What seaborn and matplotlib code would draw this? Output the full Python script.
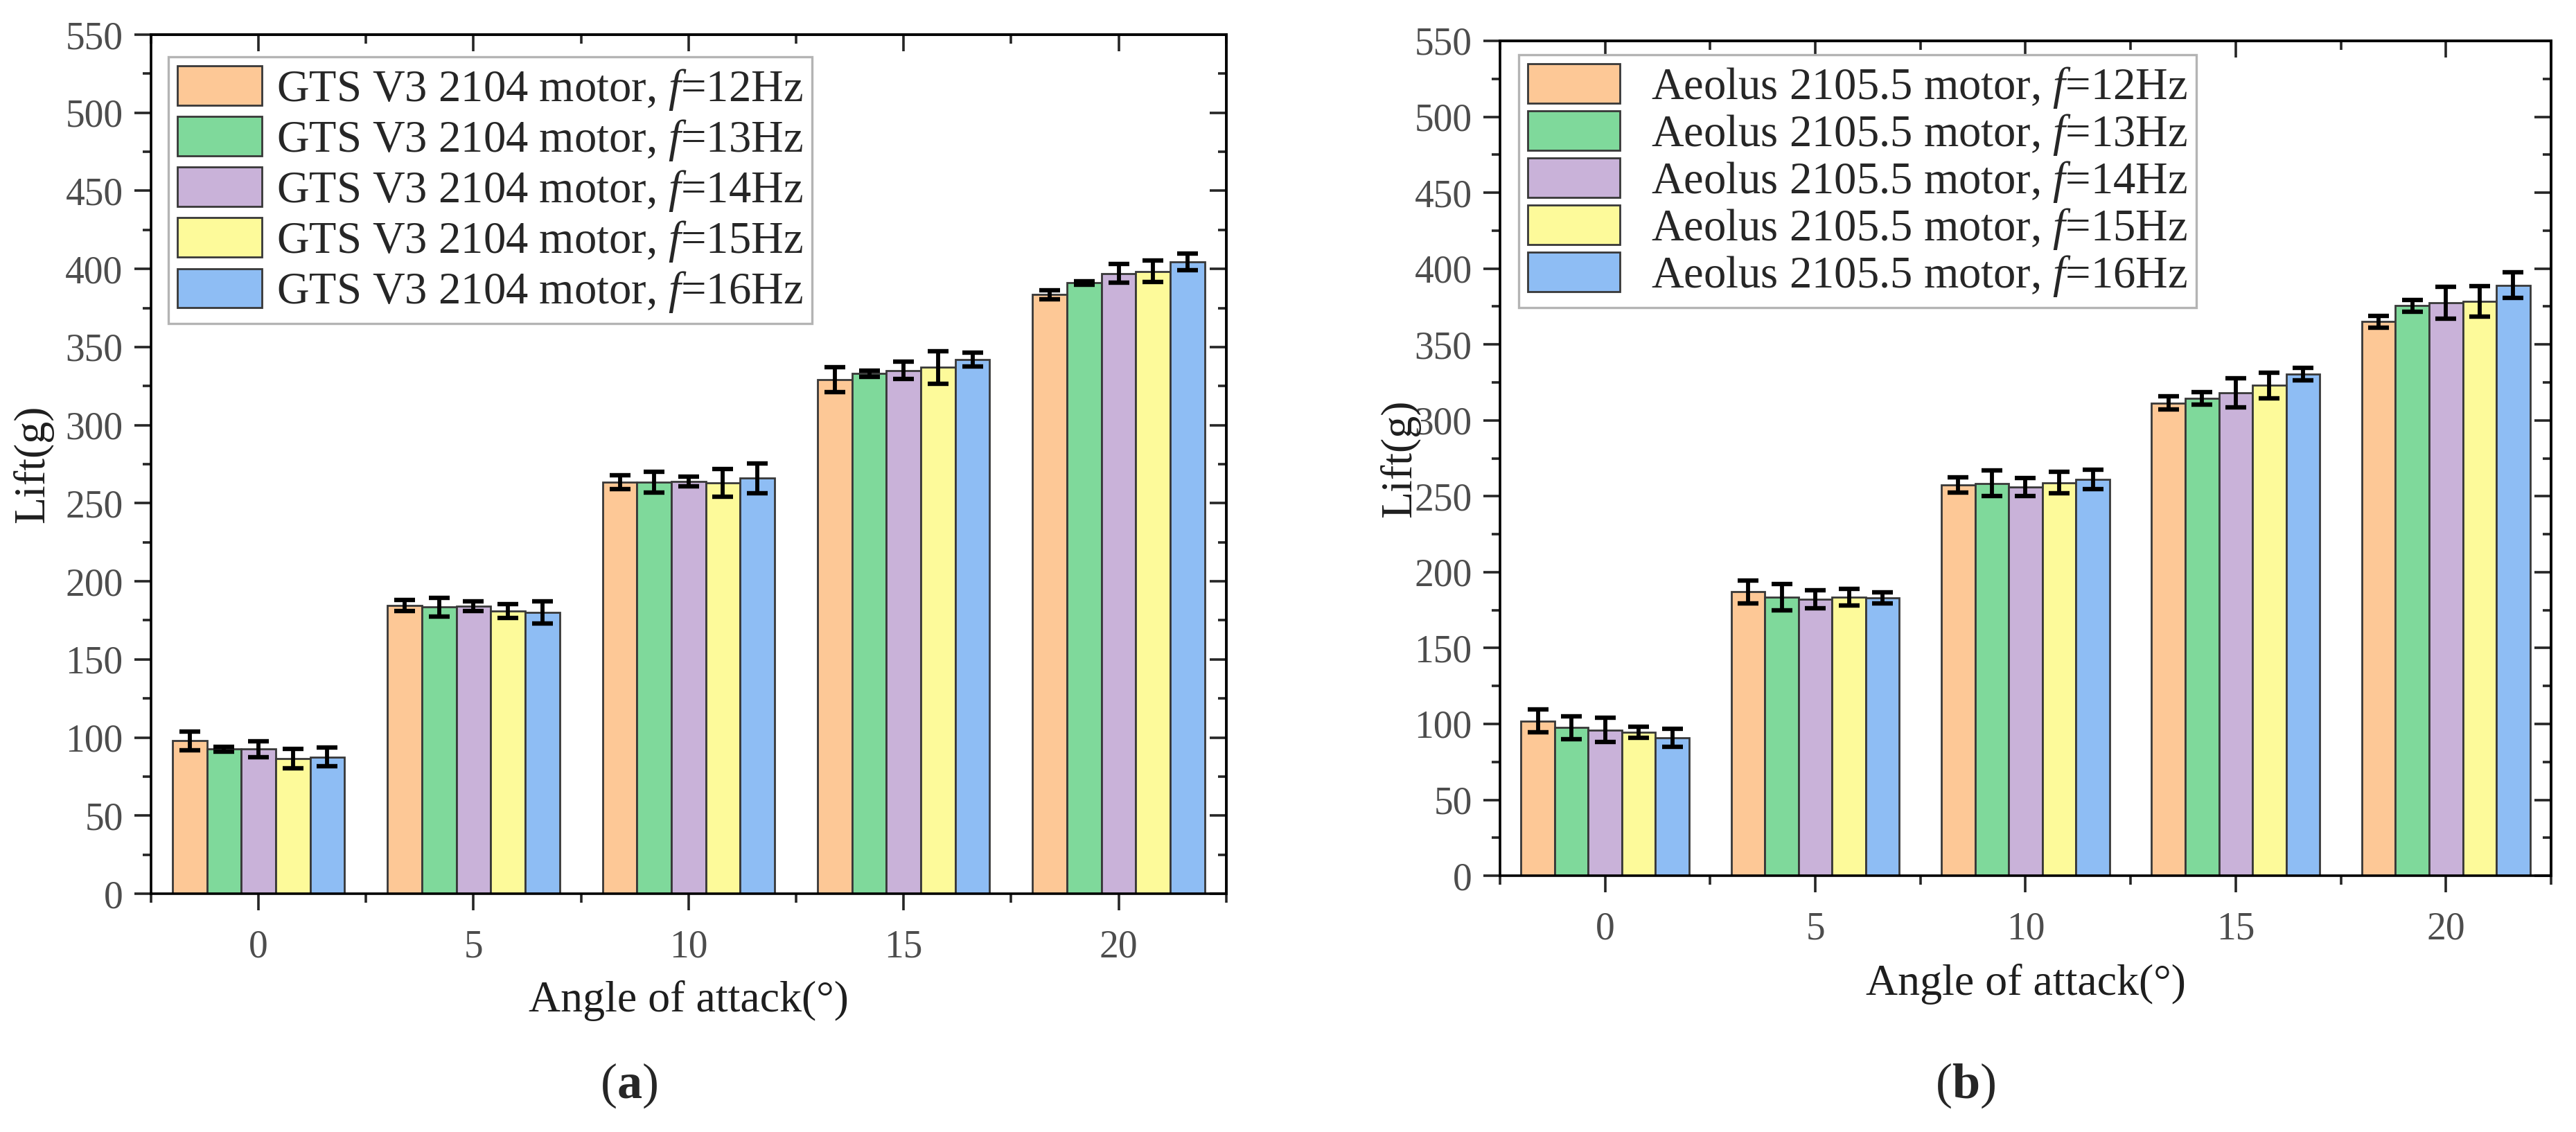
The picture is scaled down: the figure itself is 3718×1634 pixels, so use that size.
import numpy as np
import pandas as pd
import matplotlib
matplotlib.use("Agg")
import matplotlib.pyplot as plt
import matplotlib.ticker as mtick
import matplotlib.patches as mpatches
import seaborn as sns

# ── Data ────────────────────────────────────────────────────────────────────
angles = [0, 5, 10, 15, 20]
freqs = [12, 13, 14, 15, 16]

# (a) GTS V3 2104 motor
gts_12 = [98.0, 184.5, 263.5, 329.0, 383.5]
gts_13 = [92.5, 183.5, 263.5, 333.0, 391.0]
gts_14 = [92.5, 184.0, 264.0, 335.0, 397.0]
gts_15 = [86.5, 181.0, 263.0, 337.0, 398.5]
gts_16 = [87.5, 180.0, 266.0, 342.0, 404.5]
gts_12_err = [6.0, 3.5, 4.5, 8.0, 3.0]
gts_13_err = [1.5, 6.0, 6.5, 2.0, 1.0]
gts_14_err = [5.0, 3.0, 3.0, 5.5, 6.0]
gts_15_err = [6.0, 4.5, 9.0, 10.5, 7.0]
gts_16_err = [6.0, 7.0, 9.5, 4.5, 5.5]

# (b) Aeolus 2105.5 motor
aeolus_12 = [102.0, 187.0, 257.5, 311.5, 365.0]
aeolus_13 = [97.5, 183.5, 258.5, 314.5, 375.5]
aeolus_14 = [96.0, 182.0, 256.0, 318.0, 377.5]
aeolus_15 = [94.5, 183.5, 259.0, 323.0, 378.5]
aeolus_16 = [91.0, 183.0, 261.0, 330.5, 389.0]
aeolus_12_err = [7.5, 7.5, 5.0, 4.5, 4.0]
aeolus_13_err = [7.5, 8.5, 8.5, 4.0, 4.0]
aeolus_14_err = [8.0, 6.0, 6.0, 9.5, 10.5]
aeolus_15_err = [3.5, 5.5, 7.0, 8.5, 10.0]
aeolus_16_err = [6.0, 3.5, 6.5, 4.0, 8.5]

COLORS = ["#FDC896", "#7FD99B", "#C9B2D9", "#FDFA9A", "#8EBDF4"]
EDGE = "#383838"
TICK_COLOR = "#4d4d4d"

sns.set_theme(style="ticks")
plt.rcParams.update({
    "font.family": ["Liberation Serif", "DejaVu Serif"],
    "mathtext.fontset": "custom",
    "mathtext.rm": "Liberation Serif",
    "mathtext.it": "Liberation Serif:italic",
    "mathtext.bf": "Liberation Serif:bold",
    "axes.linewidth": 2.6,
    "axes.edgecolor": "black",
})


def long_frame(motor, series):
    rows = []
    for f, vals in zip(freqs, series):
        label = f"{motor} motor, $f$={f}Hz"
        for a, v in zip(angles, vals):
            rows.append({"angle": str(a), "series": label, "lift": v})
    return pd.DataFrame(rows)


def draw_panel(ax, motor, series, errors, anchor, rowpad, textpad, hlen):
    df = long_frame(motor, series)
    labels = list(dict.fromkeys(df["series"]))
    sns.barplot(data=df, x="angle", y="lift", hue="series",
                order=[str(a) for a in angles], hue_order=labels,
                palette=COLORS, saturation=1, errorbar=None, width=0.8,
                edgecolor=EDGE, linewidth=2.0, legend=False, ax=ax)

    # error bars on top of each bar
    for cont, err in zip(ax.containers, errors):
        xs = [b.get_x() + b.get_width() / 2 for b in cont]
        ys = [b.get_height() for b in cont]
        ax.errorbar(xs, ys, yerr=err, fmt="none", ecolor="black",
                    elinewidth=4.2, capsize=11, capthick=4.6, zorder=4)

    ax.set_xlim(-0.5, len(angles) - 0.5)
    ax.set_ylim(0, 550)
    ax.yaxis.set_major_locator(mtick.MultipleLocator(50))
    ax.yaxis.set_minor_locator(mtick.MultipleLocator(25))
    ax.xaxis.set_minor_locator(mtick.FixedLocator(np.arange(-0.5, len(angles), 1.0)))

    ax.tick_params(which="major", direction="out", length=17, width=2.6,
                   labelsize=40, labelcolor=TICK_COLOR, pad=12)
    ax.tick_params(which="minor", direction="out", length=9, width=2.6)
    ax.tick_params(axis="x", which="major", pad=20)
    for s in ax.spines.values():
        s.set_visible(True)
        s.set_linewidth(2.6)

    # mirrored inward ticks on top and right
    top = ax.secondary_xaxis("top")
    top.xaxis.set_major_locator(mtick.FixedLocator(range(len(angles))))
    top.xaxis.set_minor_locator(mtick.FixedLocator(np.arange(-0.5, len(angles), 1.0)))
    top.tick_params(which="major", direction="in", length=17, width=2.6, labeltop=False)
    top.tick_params(which="minor", direction="in", length=9, width=2.6)
    right = ax.secondary_yaxis("right")
    right.yaxis.set_major_locator(mtick.MultipleLocator(50))
    right.yaxis.set_minor_locator(mtick.MultipleLocator(25))
    right.tick_params(which="major", direction="in", length=17, width=2.6, labelright=False)
    right.tick_params(which="minor", direction="in", length=9, width=2.6)

    ax.set_xlabel("Angle of attack(°)", fontsize=46, color="#1e1e1e")
    ax.set_ylabel("Lift(g)", fontsize=46, color="#1e1e1e")

    handles = [mpatches.Patch(facecolor=c, edgecolor=EDGE, linewidth=2.0)
               for c in COLORS]
    leg = ax.legend(handles, labels, loc="upper left", bbox_to_anchor=anchor,
                    borderaxespad=0, fontsize=46.5, frameon=True, fancybox=False,
                    edgecolor="#b4b4b4", framealpha=1, borderpad=0.2,
                    labelspacing=rowpad, handlelength=hlen, handleheight=0.98,
                    handletextpad=textpad)
    leg.get_frame().set_linewidth(2.4)
    return ax


fig = plt.figure(figsize=(37.18, 16.34), dpi=100)
ax_a = fig.add_axes([0.0586, 0.2105, 0.4174, 0.7589])
ax_b = fig.add_axes([0.5823, 0.2264, 0.4080, 0.7375])

draw_panel(ax_a, "GTS V3 2104",
           [gts_12, gts_13, gts_14, gts_15, gts_16],
           [gts_12_err, gts_13_err, gts_14_err, gts_15_err, gts_16_err],
           anchor=(0.016, 0.974), rowpad=0.1, textpad=0.32, hlen=1.9)
draw_panel(ax_b, "Aeolus 2105.5",
           [aeolus_12, aeolus_13, aeolus_14, aeolus_15, aeolus_16],
           [aeolus_12_err, aeolus_13_err, aeolus_14_err, aeolus_15_err, aeolus_16_err],
           anchor=(0.018, 0.983), rowpad=0.02, textpad=0.7, hlen=2.05)

ax_a.yaxis.set_label_coords(-0.091, 0.5)
ax_a.xaxis.set_label_coords(0.5, -0.101)
ax_b.yaxis.set_label_coords(-0.076, 0.5)
ax_b.xaxis.set_label_coords(0.5, -0.105)

fig.text(0.244, 0.041, r"($\mathbf{a}$)", fontsize=52, ha="center", va="center")
fig.text(0.763, 0.041, r"($\mathbf{b}$)", fontsize=52, ha="center", va="center")

fig.savefig("out.png", dpi=100, facecolor="white")
